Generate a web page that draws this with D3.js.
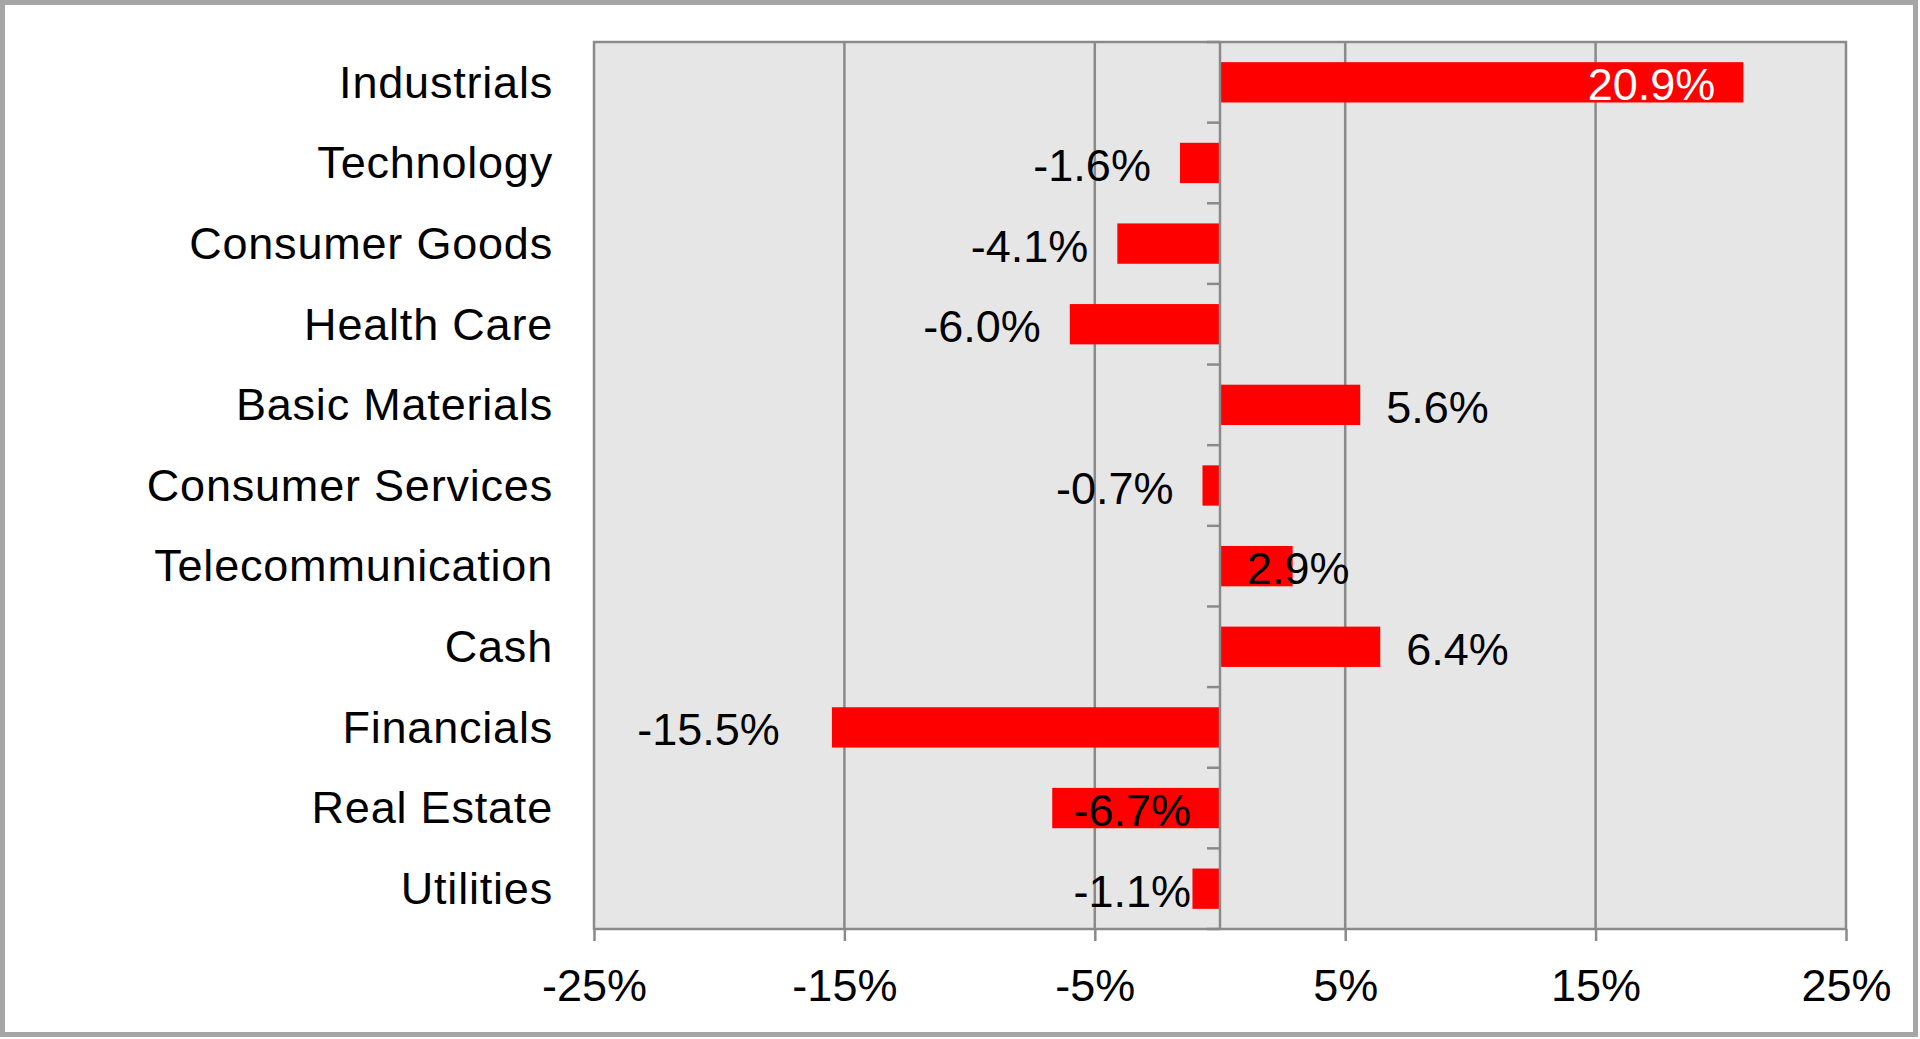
<!DOCTYPE html>
<html>
<head>
<meta charset="utf-8">
<script src="https://cdn.jsdelivr.net/npm/d3@7"></script>
<style>
  html, body { margin: 0; padding: 0; background: #fff; }
  svg text { font-family: "Liberation Sans", Arial, sans-serif; }
</style>
</head>
<body>
<div id="chart"></div>
<script>
const categories = ["Industrials", "Technology", "Consumer Goods", "Health Care", "Basic Materials",
  "Consumer Services", "Telecommunication", "Cash", "Financials", "Real Estate", "Utilities"];
const values = [20.9, -1.6, -4.1, -6.0, 5.6, -0.7, 2.9, 6.4, -15.5, -6.7, -1.1];
const xTicks = [-25, -15, -5, 5, 15, 25];

const BAR_COLOR = "#ff0000";
const GRID_COLOR = "#8a8a8a";
const FONT_SIZE = 45;

// how each data label sits relative to its bar (default: outside the end)
const labelMode = {
  "Industrials": "inEnd",
  "Telecommunication": "base",
  "Real Estate": "base",
  "Utilities": "base",
  "Financials": "farOut"
};

let width = 1920;
let height = 1039;
let plot = { left: 594, right: 1846, top: 42, bottom: 929 };

let svg = d3.select("#chart")
  .append("svg")
  .attr("width", width)
  .attr("height", height);

svg.append("rect")
  .attr("x", 2.5).attr("y", 2.5)
  .attr("width", 1913).attr("height", 1032)
  .attr("fill", "#fff")
  .attr("stroke", "#a6a6a6")
  .attr("stroke-width", 5);

let x = d3.scaleLinear().domain([-25, 25]).range([plot.left, plot.right]);
let y = d3.scaleBand().domain(categories)
  .range([plot.top, plot.bottom])
  .paddingInner(0.5)
  .paddingOuter(0.25);

// plot background
svg.append("rect")
  .attr("x", plot.left).attr("y", plot.top)
  .attr("width", plot.right - plot.left)
  .attr("height", plot.bottom - plot.top)
  .attr("fill", "#e6e6e6");

// vertical gridlines
svg.append("g")
  .selectAll("line")
  .data(xTicks.slice(1, -1))
  .join("line")
  .attr("x1", d => x(d)).attr("x2", d => x(d))
  .attr("y1", plot.top).attr("y2", plot.bottom)
  .attr("stroke", GRID_COLOR)
  .attr("stroke-width", 2.5);

// plot border
svg.append("rect")
  .attr("x", plot.left).attr("y", plot.top)
  .attr("width", plot.right - plot.left)
  .attr("height", plot.bottom - plot.top)
  .attr("fill", "none")
  .attr("stroke", GRID_COLOR)
  .attr("stroke-width", 2.5);

// bars
svg.append("g")
  .selectAll("rect")
  .data(values)
  .join("rect")
  .attr("x", d => x(Math.min(0, d)))
  .attr("width", d => Math.abs(x(d) - x(0)))
  .attr("y", (d, i) => y(categories[i]))
  .attr("height", y.bandwidth())
  .attr("fill", BAR_COLOR);

// zero axis with category boundary ticks
let x0 = x(0);
svg.append("line")
  .attr("x1", x0).attr("x2", x0)
  .attr("y1", plot.top).attr("y2", plot.bottom)
  .attr("stroke", GRID_COLOR)
  .attr("stroke-width", 2.5);

svg.append("g")
  .selectAll("line")
  .data(d3.range(categories.length + 1))
  .join("line")
  .attr("x1", x0 - 13).attr("x2", x0)
  .attr("y1", k => plot.top + k * y.step())
  .attr("y2", k => plot.top + k * y.step())
  .attr("stroke", GRID_COLOR)
  .attr("stroke-width", 2.5);

// x axis
let xAxis = svg.append("g")
  .attr("transform", `translate(0,${plot.bottom})`)
  .call(d3.axisBottom(x).tickValues(xTicks).tickSize(12).tickPadding(28)
    .tickFormat(d => d + "%"));
xAxis.select(".domain").remove();
xAxis.selectAll("line").attr("stroke", GRID_COLOR).attr("stroke-width", 2.5);
xAxis.selectAll("text").attr("font-size", FONT_SIZE).attr("fill", "#000")
  .style("font-family", '"Liberation Sans", Arial, sans-serif');

// category axis
let yAxis = svg.append("g")
  .attr("transform", `translate(${plot.left},0)`)
  .call(d3.axisLeft(y).tickSize(0).tickPadding(41));
yAxis.select(".domain").remove();
yAxis.selectAll("text").attr("font-size", FONT_SIZE).attr("fill", "#000")
  .attr("dy", "0.34em")
  .style("letter-spacing", "0.8px")
  .style("font-family", '"Liberation Sans", Arial, sans-serif');

// data labels
svg.append("g")
  .selectAll("text")
  .data(values)
  .join("text")
  .text(d => d.toFixed(1) + "%")
  .attr("font-size", FONT_SIZE)
  .attr("dy", "0.4em")
  .attr("y", (d, i) => y(categories[i]) + y.bandwidth() / 2)
  .attr("fill", (d, i) => labelMode[categories[i]] === "inEnd" ? "#fff" : "#000")
  .attr("text-anchor", (d, i) => labelMode[categories[i]] === "inEnd" || d < 0 ? "end" : "start")
  .attr("x", function (d, i) {
    let mode = labelMode[categories[i]];
    if (mode === "inEnd") return x(d) - 28;
    if (mode === "base") return d < 0 ? x0 - 29 : x0 + 27;
    if (mode === "farOut") return x(d) - 52;
    return d < 0 ? x(d) - 29 : x(d) + 26;
  });
</script>
</body>
</html>
